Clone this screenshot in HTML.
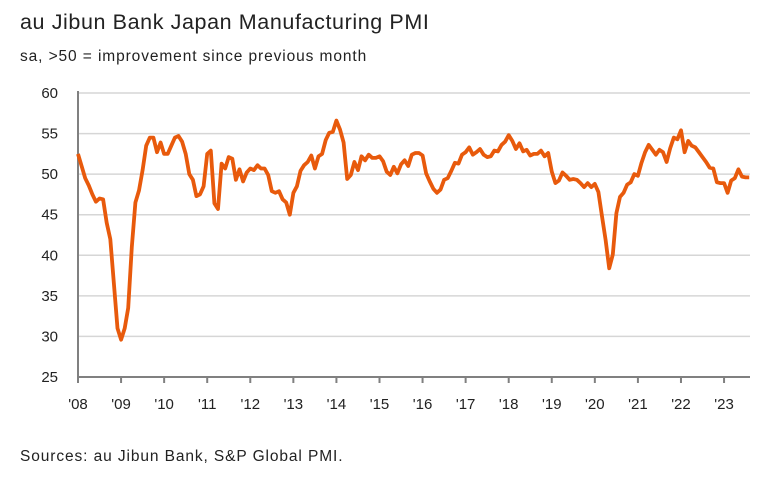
<!DOCTYPE html>
<html><head><meta charset="utf-8"><style>
body{margin:0;background:#fff;font-family:"Liberation Sans",sans-serif;}
svg text{font-family:"Liberation Sans",sans-serif;fill:#222;}
</style></head><body>
<svg width="769" height="478">
<text x="20" y="29" font-size="21.5" letter-spacing="0.6">au Jibun Bank Japan Manufacturing PMI</text>
<text x="20" y="61" font-size="15.5" letter-spacing="0.9">sa, &gt;50 = improvement since previous month</text>
<text x="20" y="461" font-size="15.5" letter-spacing="0.9">Sources: au Jibun Bank, S&amp;P Global PMI.</text>
<g id="grid"></g><g id="axes"></g><path id="line" fill="none" stroke="#e85a0c" stroke-width="3.8" stroke-linejoin="round"/>
</svg>
<script>
const yTicks=[25,30,35,40,45,50,55,60];
const xLabels=["'08","'09","'10","'11","'12","'13","'14","'15","'16","'17","'18","'19","'20","'21","'22","'23"];
const startYear=2008;
const pmi=[52.5,51.0,49.5,48.6,47.5,46.6,47.0,46.9,44.0,42.0,36.5,31.0,
29.6,31.0,33.5,41.0,46.5,48.0,50.5,53.5,54.5,54.5,52.7,53.9,
52.5,52.5,53.5,54.5,54.7,54.0,52.5,50.0,49.3,47.3,47.5,48.5,
52.5,52.9,46.4,45.7,51.3,50.7,52.1,51.9,49.3,50.6,49.1,50.2,
50.7,50.5,51.1,50.7,50.7,49.9,47.9,47.7,47.9,46.9,46.5,45.0,
47.7,48.5,50.4,51.1,51.5,52.3,50.7,52.2,52.5,54.2,55.1,55.2,
56.6,55.5,53.9,49.4,49.9,51.5,50.5,52.2,51.7,52.4,52.0,52.0,
52.2,51.6,50.3,49.9,50.9,50.1,51.2,51.7,51.0,52.4,52.6,52.6,
52.3,50.1,49.1,48.2,47.7,48.1,49.3,49.5,50.4,51.4,51.3,52.4,
52.7,53.3,52.4,52.7,53.1,52.4,52.1,52.2,52.9,52.8,53.6,54.0,
54.8,54.1,53.1,53.8,52.8,53.0,52.3,52.5,52.5,52.9,52.2,52.6,
50.3,48.9,49.2,50.2,49.8,49.3,49.4,49.3,48.9,48.4,48.9,48.4,
48.8,47.8,44.8,41.9,38.4,40.1,45.2,47.2,47.7,48.7,49.0,50.0,
49.8,51.4,52.7,53.6,53.0,52.4,53.0,52.7,51.5,53.2,54.5,54.3,
55.4,52.7,54.1,53.5,53.3,52.7,52.1,51.5,50.8,50.7,49.0,48.9,
48.9,47.7,49.2,49.5,50.6,49.7,49.6,49.6];
const X0=78,X1=750,YEARW=43.07;
const xs=i=>X0+i*YEARW/12;
const ys=v=>377-(v-25)*(284/35);
const NS="http://www.w3.org/2000/svg";
const grid=document.getElementById('grid'),axes=document.getElementById('axes');
function mk(tag,attrs,parent){const e=document.createElementNS(NS,tag);for(const k in attrs)e.setAttribute(k,attrs[k]);parent.appendChild(e);return e;}
yTicks.forEach(v=>{
 if(v>25){const g=mk('line',{x1:X0,x2:X1,y1:ys(v),y2:ys(v),stroke:'#d6d6d6','stroke-width':1.5},grid);
 
 }
 const t=mk('text',{x:58,y:ys(v)+5,'text-anchor':'end','font-size':15},axes);t.textContent=v;
 
 
});
const ya=mk('line',{x1:X0,x2:X0,y1:ys(60)-2,y2:ys(25),stroke:'#808080','stroke-width':2},axes);


const xa=mk('line',{x1:X0,x2:X1,y1:ys(25),y2:ys(25),stroke:'#808080','stroke-width':2},axes);


xLabels.forEach((l,i)=>{
 const x=X0+i*YEARW;
 const tk=mk('line',{x1:x,x2:x,y1:ys(25),y2:ys(25)+6,stroke:'#808080','stroke-width':2},axes);
 
 
 const t=mk('text',{x:x,y:409,'text-anchor':'middle','font-size':15},axes);t.textContent=l;
 
 
});
document.getElementById('line').setAttribute('d',pmi.map((v,i)=>(i?'L':'M')+xs(i).toFixed(1)+','+ys(v).toFixed(1)).join(''));
</script>
</body></html>
